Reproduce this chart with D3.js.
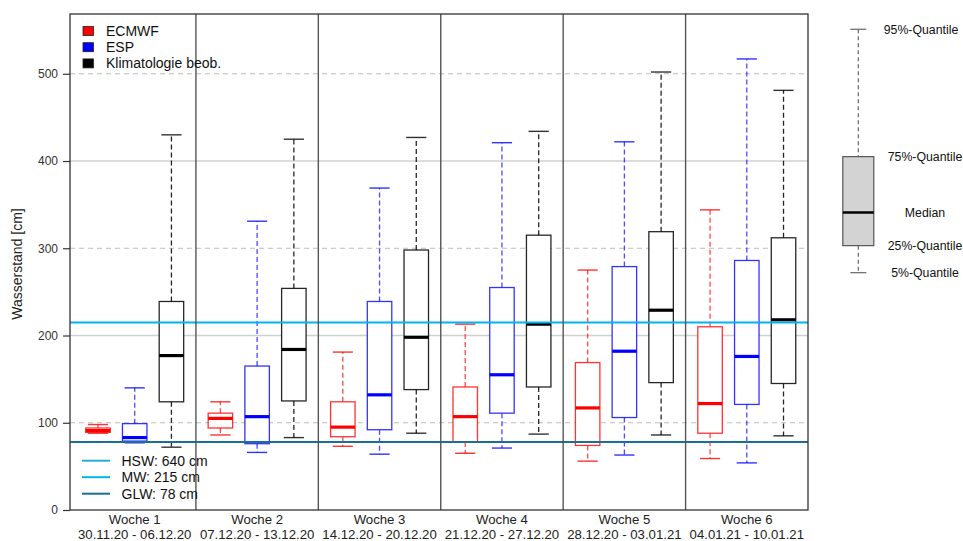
<!DOCTYPE html>
<html>
<head>
<meta charset="utf-8">
<script src="https://cdn.jsdelivr.net/npm/d3@7"></script>
<style>
  html, body { margin: 0; padding: 0; background: #fff; }
  svg { display: block; font-family: "Liberation Sans", Arial, sans-serif; }
</style>
</head>
<body>
<svg id="chart" width="963" height="541"></svg>
<script>
// ---------------- data ----------------
const weeks = ["Woche 1", "Woche 2", "Woche 3", "Woche 4", "Woche 5", "Woche 6"];
const dateRanges = ["30.11.20 - 06.12.20", "07.12.20 - 13.12.20", "14.12.20 - 20.12.20",
                    "21.12.20 - 27.12.20", "28.12.20 - 03.01.21", "04.01.21 - 10.01.21"];
const seriesNames = ["ECMWF", "ESP", "Klimatologie beob."];
const seriesColors = ["#ff0000", "#0000ff", "#000000"];

// [q05, q25, median, q75, q95] per week
const ecmwf = [
  [88, 89, 91, 94, 98],
  [86, 94, 105, 111, 124],
  [73, 84, 95, 124, 181],
  [65, 78, 107, 141, 213],
  [56, 74, 117, 169, 275],
  [59, 88, 122, 210, 344]
];
const esp = [
  [77, 79, 83, 99, 140],
  [66, 76, 107, 165, 331],
  [64, 92, 132, 239, 369],
  [71, 111, 155, 255, 421],
  [63, 106, 182, 279, 422],
  [54, 121, 176, 286, 517]
];
const klima = [
  [72, 124, 177, 239, 430],
  [83, 125, 184, 254, 425],
  [88, 138, 198, 298, 427],
  [87, 141, 213, 315, 434],
  [86, 146, 229, 319, 502],
  [85, 145, 218, 312, 481]
];
const seriesData = [ecmwf, esp, klima];

const refNames = ["HSW: 640 cm", "MW: 215 cm", "GLW: 78 cm"];
const refValues = [640, 215, 78];
const refColors = ["#2aaae2", "#00b4f0", "#1b6f93"];

const yTicks = [0, 100, 200, 300, 400, 500];

const legendLabels = ["5%-Quantile", "25%-Quantile", "Median", "75%-Quantile", "95%-Quantile"];
const legendStats = [272, 303, 341, 405, 551];

// ---------------- layout ----------------
const svg = d3.select("#chart");
const frame = { left: 70, right: 808, top: 14, bottom: 510 };

const y = d3.scaleLinear().domain([0, 568.5]).range([frame.bottom, frame.top]);
const xWeek = d3.scaleBand().domain(weeks).range([73.5, frame.right]).paddingInner(0).paddingOuter(0);
const bw = xWeek.bandwidth();
const xSeries = d3.scalePoint().domain(seriesNames).range([0.2 * bw, 0.8 * bw]);
const boxW = 0.2 * bw;
const capW = 0.165 * bw;

svg.append("defs").append("clipPath").attr("id", "plotclip")
  .append("rect").attr("x", frame.left).attr("y", frame.top)
  .attr("width", frame.right - frame.left).attr("height", frame.bottom - frame.top);

// gridlines
const grid = svg.append("g");
yTicks.filter(t => t > 0).forEach(t => {
  const solid = (t % 200 === 0);
  grid.append("line")
    .attr("x1", frame.left).attr("x2", frame.right)
    .attr("y1", y(t)).attr("y2", y(t))
    .attr("stroke", solid ? "#d0d0d0" : "#bdbdbd")
    .attr("stroke-width", solid ? 1.6 : 1)
    .attr("stroke-dasharray", solid ? null : "5,4");
});

// boxes
const boxes = svg.append("g");
weeks.forEach((w, wi) => {
  seriesNames.forEach((s, si) => {
    const [q05, q25, med, q75, q95] = seriesData[si][wi];
    const cx = xWeek(w) + xSeries(s);
    const col = seriesColors[si];
    const g = boxes.append("g");
    // whiskers (dashed)
    [[q75, q95], [q25, q05]].forEach(([a, b]) => {
      g.append("line").attr("x1", cx).attr("x2", cx).attr("y1", y(a)).attr("y2", y(b))
        .attr("stroke", col).attr("stroke-width", 1.3).attr("stroke-dasharray", "5,3")
        .attr("opacity", si === 2 ? 0.85 : 0.7);
    });
    // caps
    [q05, q95].forEach(v => {
      g.append("line").attr("x1", cx - capW / 2).attr("x2", cx + capW / 2)
        .attr("y1", y(v)).attr("y2", y(v))
        .attr("stroke", col).attr("stroke-width", 1.4).attr("opacity", 0.8);
    });
    // box
    g.append("rect").attr("x", cx - boxW / 2).attr("y", y(q75))
      .attr("width", boxW).attr("height", y(q25) - y(q75))
      .attr("fill", "#ffffff").attr("stroke", col).attr("stroke-width", 1.3)
      .attr("stroke-opacity", si === 2 ? 0.85 : 0.8);
    // median
    g.append("line").attr("x1", cx - boxW / 2).attr("x2", cx + boxW / 2)
      .attr("y1", y(med)).attr("y2", y(med))
      .attr("stroke", col).attr("stroke-width", 3.2);
  });
});

// reference lines
const refs = svg.append("g").attr("clip-path", "url(#plotclip)");
refValues.forEach((v, i) => {
  refs.append("line").attr("x1", frame.left).attr("x2", frame.right)
    .attr("y1", y(v)).attr("y2", y(v))
    .attr("stroke", refColors[i]).attr("stroke-width", 2);
});

// week separators
weeks.slice(1).forEach(w => {
  svg.append("line").attr("x1", xWeek(w)).attr("x2", xWeek(w))
    .attr("y1", frame.top).attr("y2", frame.bottom)
    .attr("stroke", "#555").attr("stroke-width", 1.4);
});

// frame
svg.append("rect").attr("x", frame.left).attr("y", frame.top)
  .attr("width", frame.right - frame.left).attr("height", frame.bottom - frame.top)
  .attr("fill", "none").attr("stroke", "#333").attr("stroke-width", 1.3);

// y axis
const yAxis = d3.axisLeft(y).tickValues(yTicks).tickSize(7).tickPadding(5).tickFormat(d3.format("d"));
const yg = svg.append("g").attr("transform", `translate(${frame.left},0)`).call(yAxis);
yg.select(".domain").remove();
yg.selectAll(".tick line").attr("stroke", "#333").attr("stroke-width", 1.2);
yg.selectAll(".tick text").attr("fill", "#333").style("font-size", "12px")
  .style("font-family", "'Liberation Sans', Arial, sans-serif");

svg.append("text")
  .attr("transform", `translate(22,${(y(0) + y(568.5)) / 2 + 2}) rotate(-90)`)
  .attr("text-anchor", "middle").attr("fill", "#222").style("font-size", "14px")
  .text("Wasserstand [cm]");

// x labels
weeks.forEach((w, i) => {
  const cx = xWeek(w) + bw / 2;
  svg.append("text").attr("x", cx).attr("y", 524).attr("text-anchor", "middle")
    .attr("fill", "#222").style("font-size", "13.2px").text(w);
  svg.append("text").attr("x", cx).attr("y", 539).attr("text-anchor", "middle")
    .attr("fill", "#222").style("font-size", "13.2px").text(dateRanges[i]);
});

// top-left legend
seriesNames.forEach((s, i) => {
  const ly = 31 + i * 16.2;
  svg.append("rect").attr("x", 83).attr("y", ly - 4.5).attr("width", 10.5).attr("height", 9)
    .attr("fill", seriesColors[i]).attr("stroke", "#222").attr("stroke-width", 0.8);
  svg.append("text").attr("x", 106).attr("y", ly + 5).attr("fill", "#111")
    .style("font-size", "14px").text(s);
});

// bottom-left legend for reference lines
refNames.forEach((n, i) => {
  const ly = 460.7 + i * 16.5;
  svg.append("line").attr("x1", 82).attr("x2", 110).attr("y1", ly).attr("y2", ly)
    .attr("stroke", refColors[i]).attr("stroke-width", 2);
  svg.append("text").attr("x", 121.5).attr("y", ly + 5).attr("fill", "#111")
    .style("font-size", "14px").text(n);
});

// right legend boxplot (schematic)
const lcx = 858.3, lbw = 31, lcap = 16;
const [l05, l25, lmed, l75, l95] = legendStats;
const lg = svg.append("g");
lg.append("line").attr("x1", lcx).attr("x2", lcx).attr("y1", y(l95)).attr("y2", y(l75))
  .attr("stroke", "#666").attr("stroke-width", 1.2).attr("stroke-dasharray", "4,3");
lg.append("line").attr("x1", lcx).attr("x2", lcx).attr("y1", y(l25)).attr("y2", y(l05))
  .attr("stroke", "#666").attr("stroke-width", 1.2).attr("stroke-dasharray", "4,3");
[l05, l95].forEach(v => lg.append("line").attr("x1", lcx - lcap / 2).attr("x2", lcx + lcap / 2)
  .attr("y1", y(v)).attr("y2", y(v)).attr("stroke", "#666").attr("stroke-width", 1.2));
lg.append("rect").attr("x", lcx - lbw / 2).attr("y", y(l75)).attr("width", lbw)
  .attr("height", y(l25) - y(l75)).attr("fill", "#d3d3d3").attr("stroke", "#555").attr("stroke-width", 1.2);
lg.append("line").attr("x1", lcx - lbw / 2).attr("x2", lcx + lbw / 2)
  .attr("y1", y(lmed)).attr("y2", y(lmed)).attr("stroke", "#000").attr("stroke-width", 2.5);
legendLabels.forEach((t, i) => {
  lg.append("text").attr("x", i === 4 ? 921 : 925).attr("y", y(legendStats[i]) + 4.3)
    .attr("text-anchor", "middle").attr("fill", "#111").style("font-size", "12.3px").text(t);
});
</script>
</body>
</html>
